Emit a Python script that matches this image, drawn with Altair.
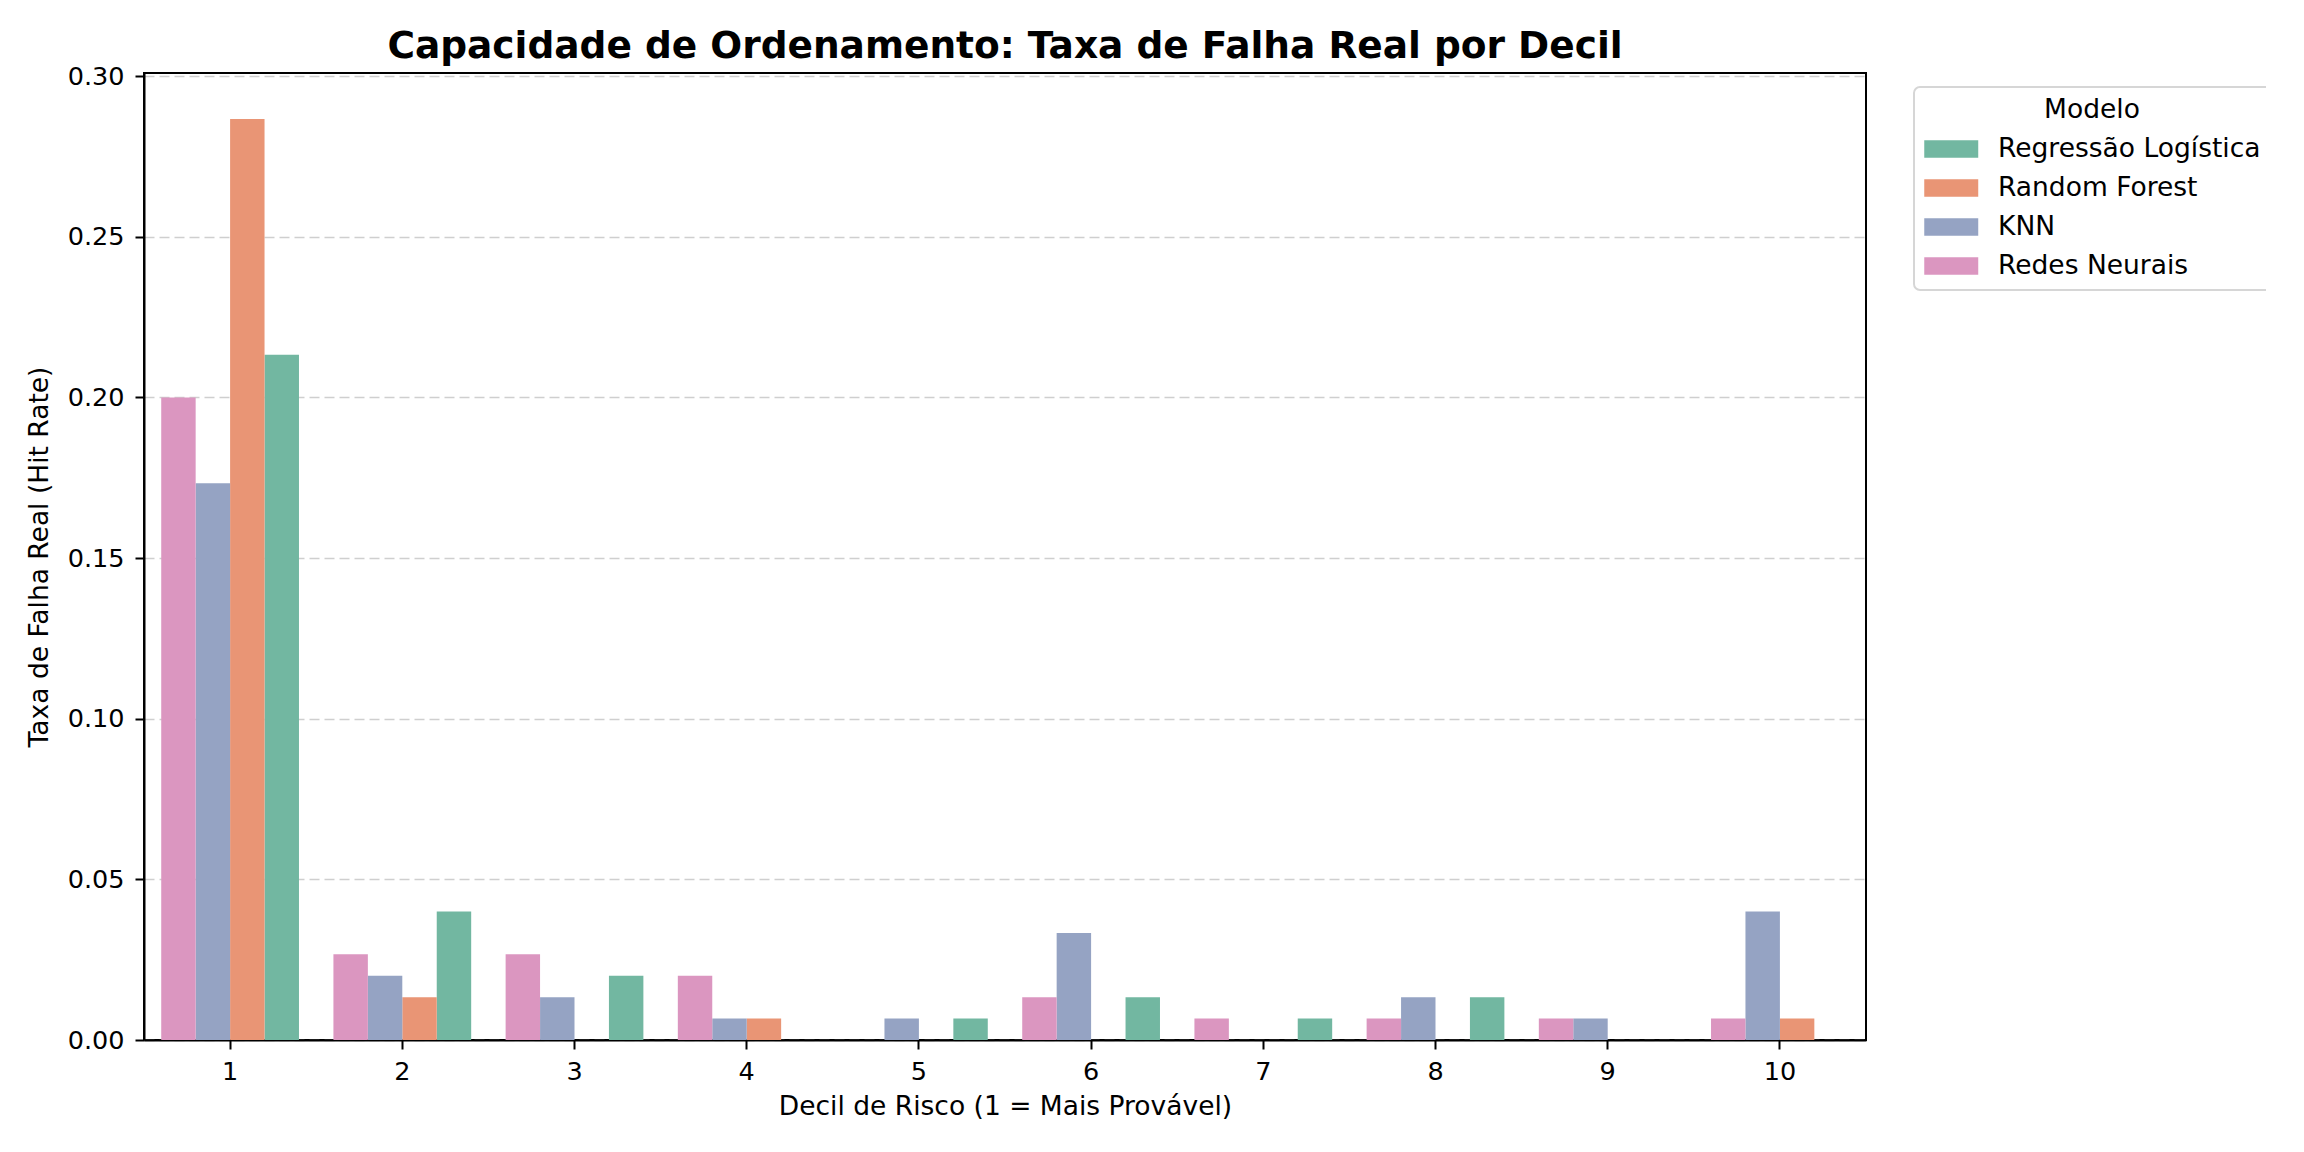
import altair as alt
import pandas as pd

deciles = [1, 2, 3, 4, 5, 6, 7, 8, 9, 10]
models = ["Regressão Logística", "Random Forest", "KNN", "Redes Neurais"]
bar_order = ["Redes Neurais", "KNN", "Random Forest", "Regressão Logística"]
colors = ["#72b7a1", "#e99575", "#95a3c3", "#db96c0"]

reg_log = [0.2133, 0.0400, 0.0200, 0.0000, 0.0067, 0.0133, 0.0067, 0.0133, 0.0000, 0.0000]
rand_forest = [0.2867, 0.0133, 0.0000, 0.0067, 0.0000, 0.0000, 0.0000, 0.0000, 0.0000, 0.0067]
knn = [0.1733, 0.0200, 0.0133, 0.0067, 0.0067, 0.0333, 0.0000, 0.0133, 0.0067, 0.0400]
redes = [0.2000, 0.0267, 0.0267, 0.0200, 0.0000, 0.0133, 0.0067, 0.0067, 0.0067, 0.0067]

y_ticks = [0.0, 0.05, 0.10, 0.15, 0.20, 0.25, 0.30]

series = {
    "Regressão Logística": reg_log,
    "Random Forest": rand_forest,
    "KNN": knn,
    "Redes Neurais": redes,
}
rows = []
for m, vals in series.items():
    for d, v in zip(deciles, vals):
        rows.append({"Decil": d, "Modelo": m, "Taxa": v})
df = pd.DataFrame(rows)

FONT = "DejaVu Sans"

chart = (
    alt.Chart(df)
    .mark_bar(strokeWidth=0)
    .encode(
        x=alt.X(
            "Decil:O",
            sort=deciles,
            scale=alt.Scale(paddingInner=0.2, paddingOuter=0.1),
            axis=alt.Axis(
                title="Decil de Risco (1 = Mais Provável)",
                labelAngle=0,
                labelPadding=10,
                titlePadding=9,
            ),
        ),
        xOffset=alt.XOffset("Modelo:N", sort=bar_order, scale=alt.Scale(domain=bar_order, paddingInner=0, paddingOuter=0)),
        y=alt.Y(
            "Taxa:Q",
            scale=alt.Scale(domain=[0, 0.301], nice=False, zero=True),
            axis=alt.Axis(
                title="Taxa de Falha Real (Hit Rate)",
                values=y_ticks,
                format=".2f",
                grid=True,
                gridColor="#cfcfcf",
                gridDash=[10, 5],
                gridWidth=1.5,
                labelPadding=11,
                titlePadding=14,
            ),
        ),
        color=alt.Color(
            "Modelo:N",
            scale=alt.Scale(domain=models, range=colors),
            legend=alt.Legend(
                title="Modelo",
                orient="none",
                legendX=1770,
                legendY=14,
                padding=10,
                strokeColor="#d6d6d6",
                cornerRadius=6,
                fillColor="white",
                symbolType="M-1,-0.668H3.075V0.668H-1Z",
                symbolSize=702,
                symbolStrokeWidth=0,
                symbolOpacity=1,
                labelOffset=47,
                labelLimit=600,
                rowPadding=12,
                titlePadding=12,
                titleAnchor="middle",
                labelFont=FONT,
                labelFontSize=26.5,
                labelColor="black",
                titleFont=FONT,
                titleFontSize=26.5,
                titleFontWeight="normal",
                titleColor="black",
            ),
        ),
    )
    .properties(
        width=1722,
        height=967,
        title=alt.TitleParams(
            "Capacidade de Ordenamento: Taxa de Falha Real por Decil",
            font=FONT,
            fontSize=37.5,
            fontWeight="bold",
            color="black",
            anchor="middle",
            offset=8,
            dy=9,
        ),
        autosize=alt.AutoSizeParams(type="none"),
        padding={"left": 136, "top": 65, "right": 400, "bottom": 100},
    )
    .configure_view(stroke="black", strokeWidth=2)
    .configure_legend(strokeWidth=2)
    .configure_axis(
        labelFont=FONT,
        labelFontSize=25.5,
        labelColor="black",
        titleFont=FONT,
        titleFontSize=26.5,
        titleFontWeight="normal",
        titleColor="black",
        domainColor="black",
        domainWidth=2,
        tickColor="black",
        tickWidth=2,
        tickSize=9,
    )
    .configure_axisX(grid=False)
)

chart.save("out.html", embed_options={"renderer": "svg", "actions": False})
